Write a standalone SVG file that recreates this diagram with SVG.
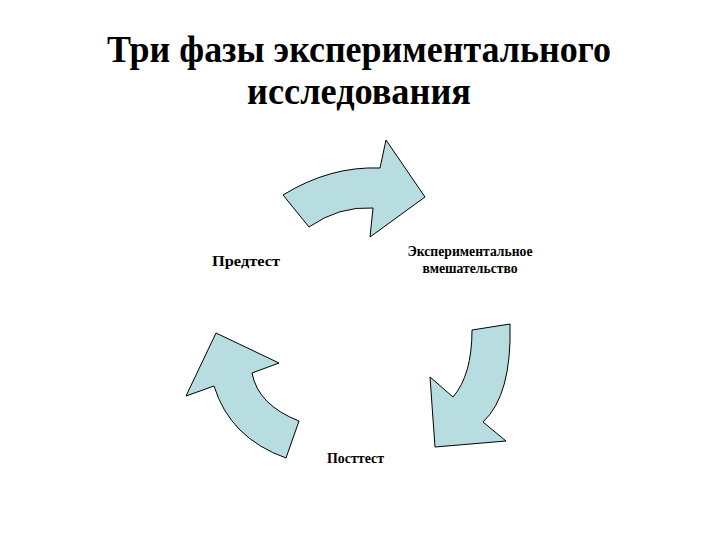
<svg xmlns="http://www.w3.org/2000/svg" width="720" height="540" viewBox="0 0 720 540">
<style>
.title{font-family:"Liberation Serif","Times New Roman",serif;font-weight:bold;font-size:37px;fill:#000}
.lbl{font-family:"Liberation Serif","Times New Roman",serif;font-weight:bold;font-size:14px;fill:#000}
.arr{fill:#b7dde1;stroke:#000;stroke-width:1;stroke-linejoin:miter}
</style>
<rect width="720" height="540" fill="#fff"/>
<g id="title">
<text class="title" x="359" y="62" text-anchor="middle" textLength="504" lengthAdjust="spacingAndGlyphs">Три фазы экспериментального</text>
<text class="title" x="359" y="104" text-anchor="middle" textLength="224" lengthAdjust="spacingAndGlyphs">исследования</text>
</g>
<g id="connectors">
<path class="arr" d="M283,195 Q330,166 380,168 L386,140 L425,197 L370,237 L373,208 Q339,206 309,227 Z"/>
<path class="arr" d="M510,324 L472,330 Q472,375 453,397 L430,377 L435,447 L506,441 L483,422 Q512,395 510,324 Z"/>
<path class="arr" d="M216,333 L279,363 L252,373 Q258,405 299,421 L286,458 Q230,438 214,386 L186,396 Z"/>
</g>
<g id="node-pretest">
<text class="lbl" x="212" y="266" textLength="68" lengthAdjust="spacingAndGlyphs">Предтест</text>
</g>
<g id="node-intervention">
<text class="lbl" x="470" y="256" text-anchor="middle" textLength="125" lengthAdjust="spacingAndGlyphs">Экспериментальное</text>
<text class="lbl" x="470" y="273" text-anchor="middle" textLength="95" lengthAdjust="spacingAndGlyphs">вмешательство</text>
</g>
<g id="node-posttest">
<text class="lbl" x="327" y="463" textLength="57" lengthAdjust="spacingAndGlyphs">Посттест</text>
</g>
</svg>
